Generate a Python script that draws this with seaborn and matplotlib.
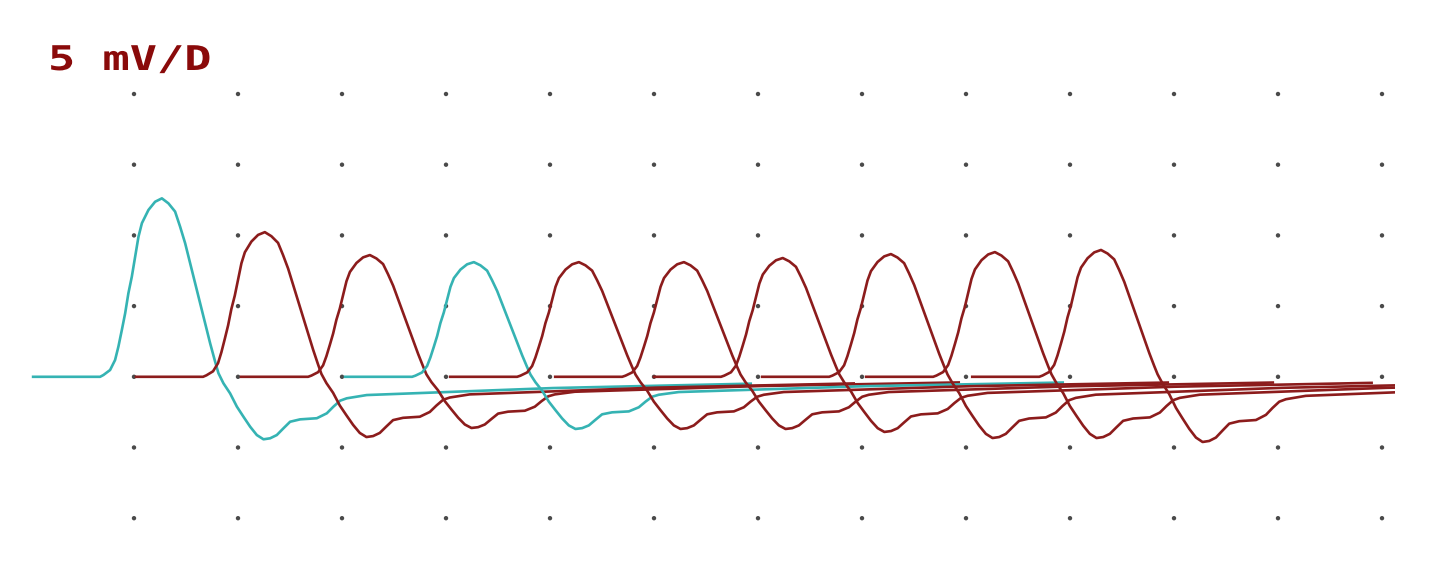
import numpy as np
import pandas as pd
import matplotlib
matplotlib.use("Agg")
import matplotlib.pyplot as plt
from matplotlib.patches import Rectangle
from matplotlib.patheffects import AbstractPathEffect
from matplotlib.transforms import Affine2D
import seaborn as sns

# ---- data (x in divisions, y in mV; 5 mV per division) ----
# waveform template read from the first (cyan) response: time from trace start (div)
TEMPLATE_T = [0.000, 0.644, 0.676, 0.740, 0.788, 0.820, 0.853, 0.885, 0.916, 0.949,
              0.981, 1.013, 1.046, 1.109, 1.173, 1.238, 1.301, 1.365, 1.413, 1.462,
              1.510, 1.558, 1.606, 1.654, 1.702, 1.750, 1.782, 1.830, 1.894, 1.959,
              2.022, 2.087, 2.151, 2.215, 2.279, 2.343, 2.407, 2.471, 2.567, 2.728,
              2.824, 2.888, 2.952, 3.016, 3.208, 3.720, 5.000, 6.900]
# normalised amplitude (positive phase / peak, negative phase / trough)
TEMPLATE_V = [0.000, 0.000, 0.010, 0.038, 0.094, 0.169, 0.262, 0.356, 0.468, 0.561,
              0.673, 0.785, 0.861, 0.935, 0.981, 1.000, 0.972, 0.926, 0.842, 0.748,
              0.636, 0.524, 0.412, 0.300, 0.188, 0.085, 0.020, -0.104, -0.265, -0.477,
              -0.638, -0.799, -0.932, -1.000, -0.984, -0.932, -0.824, -0.719, -0.681, -0.663,
              -0.584, -0.477, -0.382, -0.344, -0.292, -0.260, -0.180, -0.110]

TRACE_START = [0.03, 1.02, 2.03, 3.03, 4.04, 5.05, 6.00, 7.04, 8.04, 9.06]
PEAK_MV = [12.62, 10.23, 8.61, 8.11, 8.11, 8.11, 8.40, 8.68, 8.82, 8.97]
TROUGH_MV = [-4.42, -4.26, -3.62, -3.69, -3.69, -3.69, -3.90, -4.33, -4.33, -4.61]
TRACE_COLOR = ["cyan", "red", "red", "cyan", "red", "red", "red", "red", "red", "red"]

GRID_X = [1, 2, 3, 4, 5, 6, 7, 8, 9, 10, 11, 12, 13]
GRID_Y = [-10, -5, 0, 5, 10, 15, 20]
LABEL = "5 mV/D"

PALETTE = {"cyan": "#35b3b3", "red": "#8c1c1c"}


class HStretch(AbstractPathEffect):
    """Draw a text path stretched horizontally about a display x anchor."""

    def __init__(self, sx, x_anchor):
        super().__init__()
        self.sx = sx
        self.x_anchor = x_anchor

    def draw_path(self, renderer, gc, tpath, affine, rgbFace=None):
        extra = (Affine2D().translate(-self.x_anchor, 0)
                 .scale(self.sx, 1).translate(self.x_anchor, 0))
        renderer.draw_path(gc, tpath, affine + extra, rgbFace)


# ---- figure ----
W, H = 1441, 567
fig = plt.figure(figsize=(W / 100, H / 100), dpi=100)
ax = fig.add_axes([0, 0, 1, 1])
ax.set_xlim(-30 / 104, (W - 30) / 104)
ax.set_ylim((376.8 - H) / 14.14, 376.8 / 14.14)
ax.axis("off")
fig.patch.set_facecolor("white")

# dotted grid
gx, gy = np.meshgrid(GRID_X, GRID_Y)
grid_df = pd.DataFrame({"x": gx.ravel(), "y": gy.ravel()})
sns.scatterplot(data=grid_df, x="x", y="y", ax=ax, s=10, color="#4a4a4a",
                edgecolor="none", legend=False, zorder=1)

clip = Rectangle((-1, -20), 13.125 + 1, 60, transform=ax.transData)

t = np.array(TEMPLATE_T)
v = np.array(TEMPLATE_V)
for i, (x0, pk, tr, c) in enumerate(zip(TRACE_START, PEAK_MV, TROUGH_MV, TRACE_COLOR)):
    y = np.where(v >= 0, v * pk, v * abs(tr))
    df = pd.DataFrame({"x": x0 + t, "y": y})
    sns.lineplot(data=df, x="x", y="y", ax=ax, sort=False, estimator=None,
                 color=PALETTE[c], linewidth=1.9, zorder=2 + i)
    ax.lines[-1].set_clip_path(clip)

ax.set_xlabel("")
ax.set_ylabel("")

fig.text(48 / W, 1 - 70 / H, LABEL, color="#8a0a0a", fontsize=24.5,
         fontweight="bold", family="DejaVu Sans Mono", va="baseline", ha="left",
         path_effects=[HStretch(1.33, 48)])

fig.savefig("out.png", dpi=100, facecolor="white")
